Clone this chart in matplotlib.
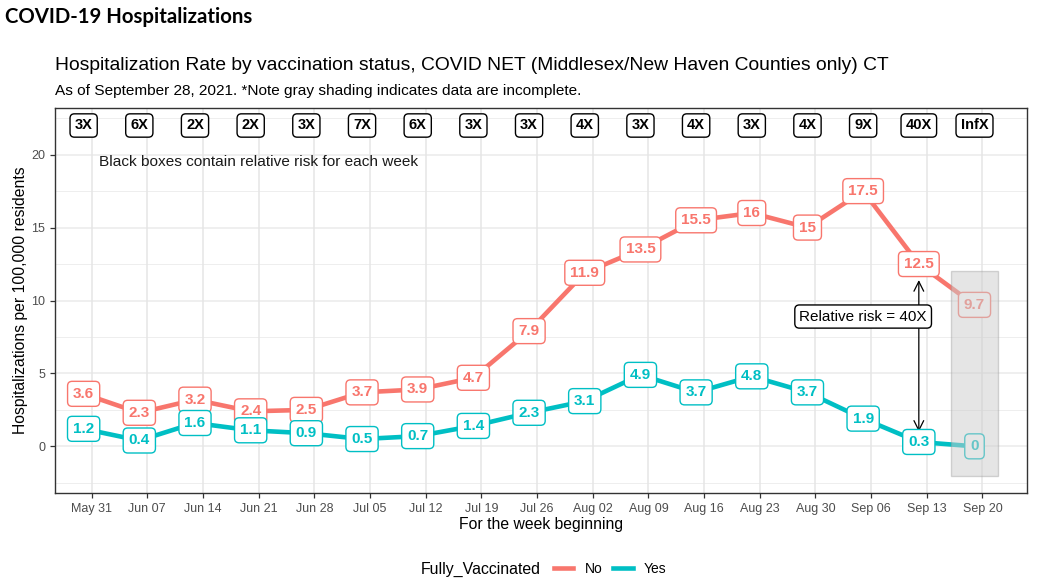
import matplotlib
matplotlib.use("Agg")
import matplotlib.pyplot as plt
import matplotlib.dates as mdates
import numpy as np
from matplotlib.patches import Rectangle
from matplotlib.lines import Line2D

# ---------------- data ----------------
point_dates = ["2021-05-30", "2021-06-06", "2021-06-13", "2021-06-20", "2021-06-27",
               "2021-07-04", "2021-07-11", "2021-07-18", "2021-07-25", "2021-08-01",
               "2021-08-08", "2021-08-15", "2021-08-22", "2021-08-29", "2021-09-05",
               "2021-09-12", "2021-09-19"]
tick_dates = ["2021-05-31", "2021-06-07", "2021-06-14", "2021-06-21", "2021-06-28",
              "2021-07-05", "2021-07-12", "2021-07-19", "2021-07-26", "2021-08-02",
              "2021-08-09", "2021-08-16", "2021-08-23", "2021-08-30", "2021-09-06",
              "2021-09-13", "2021-09-20"]
tick_labels = ["May 31", "Jun 07", "Jun 14", "Jun 21", "Jun 28", "Jul 05", "Jul 12",
               "Jul 19", "Jul 26", "Aug 02", "Aug 09", "Aug 16", "Aug 23", "Aug 30",
               "Sep 06", "Sep 13", "Sep 20"]
unvaccinated = [3.6, 2.3, 3.2, 2.4, 2.5, 3.7, 3.9, 4.7, 7.9, 11.9, 13.5, 15.5, 16, 15, 17.5, 12.5, 9.7]
vaccinated = [1.2, 0.4, 1.6, 1.1, 0.9, 0.5, 0.7, 1.4, 2.3, 3.1, 4.9, 3.7, 4.8, 3.7, 1.9, 0.3, 0]
relative_risk = ["3X", "6X", "2X", "2X", "3X", "7X", "6X", "3X", "3X", "4X", "3X", "4X",
                 "3X", "4X", "9X", "40X", "InfX"]
risk_box_y = 22
note_text = "Black boxes contain relative risk for each week"
note_date, note_y = "2021-06-21", 19.5
arrow_date, arrow_top, arrow_bottom = "2021-09-12", 11.4, 1.0
arrow_label, arrow_label_date, arrow_label_y = "Relative risk = 40X", "2021-09-05", 8.9
shade_start, shade_end, shade_low, shade_high = "2021-09-16", "2021-09-22", -2, 12

RED = "#F8766D"
TEAL = "#00BFC4"
FONT = ["Liberation Sans", "DejaVu Sans"]

def dn(s):
    return mdates.date2num(np.datetime64(s))

px = np.array([dn(d) for d in point_dates])
tx = np.array([dn(d) for d in tick_dates])

plt.rcParams["font.family"] = FONT
fig = plt.figure(figsize=(10.37, 5.86), dpi=100)
W, H = 1037, 586
ax = fig.add_axes([55 / W, (H - 493) / H, (1027 - 55) / W, (493 - 108) / H])

ax.set_xlim(tx[0] - 4.6, tx[-1] + 5.6)
ax.set_ylim(-3.2, 23.2)

# grid
for y in [0, 5, 10, 15, 20]:
    ax.axhline(y, color="#EBEBEB", lw=1.1, zorder=0)
for y in [-2.5, 2.5, 7.5, 12.5, 17.5, 22.5]:
    ax.axhline(y, color="#EEEEEE", lw=0.7, zorder=0)
for x in tx:
    ax.axvline(x, color="#E5E5E5", lw=1.1, zorder=0)

# lines
ax.plot(px, unvaccinated, color=RED, lw=3.3, zorder=2, solid_capstyle="butt")
ax.plot(px, vaccinated, color=TEAL, lw=3.3, zorder=2, solid_capstyle="butt")

# value labels
def lab(v):
    return f"{v:g}"

for x, v in zip(px, unvaccinated):
    ax.text(x, v, lab(v), ha="center", va="center", fontsize=11, fontweight="bold",
            color=RED, zorder=4,
            bbox=dict(boxstyle="round,pad=0.36,rounding_size=0.3", fc="white", ec=RED, lw=1.0))
for x, v in zip(px, vaccinated):
    ax.text(x, v, lab(v), ha="center", va="center", fontsize=11, fontweight="bold",
            color=TEAL, zorder=4,
            bbox=dict(boxstyle="round,pad=0.36,rounding_size=0.3", fc="white", ec=TEAL, lw=1.0))

# relative risk boxes
for x, r in zip(px, relative_risk):
    ax.text(x, risk_box_y, r, ha="center", va="center", fontsize=10.5, fontweight="bold",
            color="black", zorder=4,
            bbox=dict(boxstyle="round,pad=0.32,rounding_size=0.3", fc="white", ec="black", lw=1.0))

ax.text(dn(note_date), note_y, note_text, ha="center", va="center", fontsize=11.1,
        color="#1a1a1a", zorder=4)

# arrow
ax.annotate("", xy=(dn(arrow_date), arrow_top), xytext=(dn(arrow_date), arrow_bottom),
            arrowprops=dict(arrowstyle="<->,head_length=0.7,head_width=0.35", color="black",
                            lw=0.9, shrinkA=0, shrinkB=0, mutation_scale=10), zorder=3)
ax.text(dn(arrow_label_date), arrow_label_y, arrow_label, ha="center", va="center",
        fontsize=11, color="black", zorder=5,
        bbox=dict(boxstyle="round,pad=0.3,rounding_size=0.3", fc="white", ec="black", lw=1.0))

# shading
ax.add_patch(Rectangle((dn(shade_start), shade_low), dn(shade_end) - dn(shade_start),
                       shade_high - shade_low, fc=(0.80, 0.80, 0.80, 0.5),
                       ec=(0.6, 0.6, 0.6, 0.4), lw=1.0, zorder=6))

# axes style
for s in ax.spines.values():
    s.set_color("#333333")
    s.set_linewidth(1.0)
ax.set_xticks(tx)
ax.set_xticklabels(tick_labels)
ax.set_yticks([0, 5, 10, 15, 20])
ax.tick_params(axis="both", colors="#333333", labelcolor="#4D4D4D", labelsize=9,
               length=3.5, width=0.9)
ax.set_xlabel("For the week beginning", fontsize=11.3, color="black", labelpad=2)
ax.set_ylabel("Hospitalizations per 100,000 residents", fontsize=11.3, color="black", labelpad=2)

# titles
fig.text(5 / W, 1 - 17 / H, "COVID-19 Hospitalizations", fontsize=14.7, fontweight="bold",
         family=["Lato", "DejaVu Sans"], ha="left", va="center")
fig.text(55 / W, 1 - 66 / H,
         "Hospitalization Rate by vaccination status, COVID NET (Middlesex/New Haven Counties only) CT",
         fontsize=13.9, ha="left", va="center", color="black")
fig.text(55 / W, 1 - 91 / H,
         "As of September 28, 2021. *Note gray shading indicates data are incomplete.",
         fontsize=11.1, ha="left", va="center", color="black")

# legend
fig.text(421 / W, 1 - 569 / H, "Fully_Vaccinated", fontsize=11.4, ha="left", va="center")
handles = [Line2D([], [], color=RED, lw=3.3), Line2D([], [], color=TEAL, lw=3.3)]
fig.legend(handles, ["No", "Yes"], ncol=2, frameon=False, fontsize=10,
           loc="center left", bbox_to_anchor=(547 / W, 1 - 569 / H),
           handlelength=1.4, handletextpad=0.8, columnspacing=0.8, borderpad=0)

fig.savefig("out.png", dpi=100)
